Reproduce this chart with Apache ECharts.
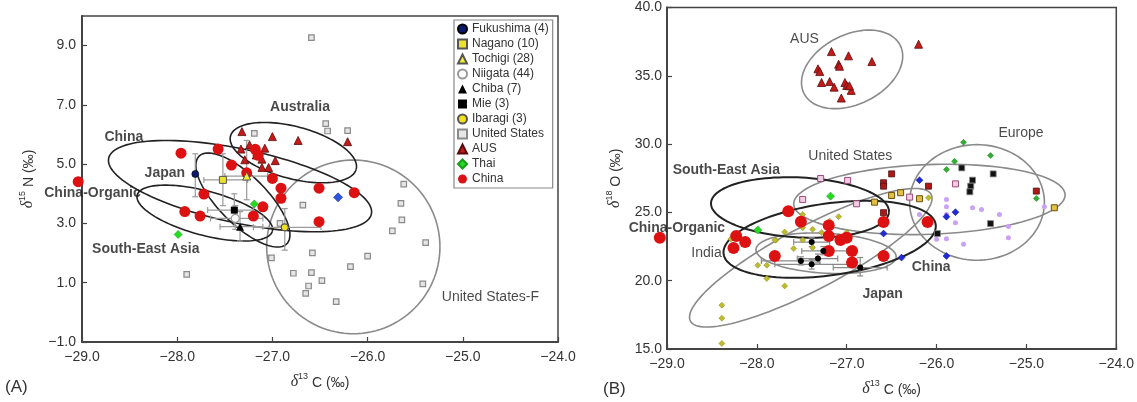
<!DOCTYPE html>
<html><head><meta charset="utf-8">
<script src="https://cdn.jsdelivr.net/npm/echarts@6/dist/echarts.min.js"></script>
<style>html,body{margin:0;padding:0;background:#fff}#c{width:1137px;height:402px}</style>
</head><body><div id="c"></div>
<script>
// ---------- ticks ----------
const xTicks = [-29, -28, -27, -26, -25, -24];
const aYTicks = [-1, 1, 3, 5, 7, 9];
const bYTicks = [15, 20, 25, 30, 35, 40];

// ---------- Panel A: d13C vs d15N ----------
const aChina = [[-27.96,5.37],[-27.57,5.51],[-27.43,4.97],[-27.27,4.71],[-27.18,5.50],[-27.15,5.30],[-27.0,4.52],[-26.91,4.19],[-26.91,3.85],[-26.51,4.19],[-26.14,4.04],[-26.51,3.06],[-27.72,3.99],[-27.92,3.40],[-27.76,3.25],[-27.10,3.56],[-27.20,3.25],[-29.04,4.41]];
const aAUS = [[-27.32,6.10],[-27.0,5.93],[-26.73,5.80],[-26.21,5.76],[-27.33,5.51],[-27.24,5.65],[-27.08,5.54],[-27.29,5.15],[-27.11,5.17],[-26.97,5.12],[-27.04,4.89],[-27.11,4.89],[-27.17,5.31]];
const aUS = [[-26.59,9.27],[-26.44,6.37],[-26.42,6.12],[-26.21,6.13],[-27.19,6.04],[-26.68,3.62],[-26.92,3.0],[-25.62,4.33],[-25.65,3.68],[-25.64,3.12],[-25.74,2.75],[-25.39,2.35],[-26.00,1.90],[-26.18,1.54],[-26.58,2.01],[-27.01,1.84],[-26.78,1.32],[-26.59,1.34],[-26.48,1.07],[-26.62,0.89],[-26.65,0.64],[-26.33,0.36],[-25.42,0.96],[-27.90,1.28]];
const aThai = [[-27.99,2.63],[-27.19,3.66]];
const aBlue = [[-26.31,3.88]];
const aFukushima = [[-27.81,4.67]];
const aNagano = [[-27.52,4.47]];
const aTochigi = [[-27.27,4.60]];
const aNiigata = [[-27.39,3.17]];
const aChiba = [[-27.34,2.89]];
const aMie = [[-27.40,3.45]];
const aIbaragi = [[-26.87,2.87]];
// [x, y, xLow, xHigh, yLow, yHigh]
const aJapanErr = [
  [-27.81,4.67,-27.81,-27.81,3.90,5.35],
  [-27.52,4.47,-27.72,-27.26,3.60,5.35],
  [-27.27,4.60,-27.50,-27.05,3.80,5.80],
  [-27.39,3.17,-27.65,-27.10,2.80,3.60],
  [-27.34,2.89,-27.55,-27.10,2.40,3.40],
  [-27.40,3.45,-27.68,-27.20,2.90,4.00],
  [-26.87,2.87,-27.20,-26.49,2.10,3.50]
];
// ellipses: [centerX, centerY, majorEndX, majorEndY, minorEndX, minorEndY]
const aEllBlack = [
  [-27.34,4.26,-25.96,3.32,-27.26,5.48],   // China
  [-26.78,5.39,-26.12,4.83,-26.71,6.24],   // Australia
  [-27.31,3.79,-26.85,2.31,-27.13,4.36],   // Japan
  [-27.71,3.35,-27.00,2.74,-27.65,4.07]    // South-East Asia
];
const aEllGrey = [
  [-26.15,2.21,-25.24,2.21,-26.15,5.14]    // United States-F
];
const aBoldLabels = [['Australia',-26.71,6.93],['China',-28.56,5.92],['Japan',-28.13,4.70],['China-Organic',-28.89,4.03],['South-East Asia',-28.33,2.14]];
const aRegLabels = [['United States-F',-24.71,0.51]];

// ---------- Panel B: d13C vs d18O ----------
const bAUS = [[-27.17,36.77],[-26.98,36.46],[-27.32,35.51],[-27.30,35.31],[-27.09,35.85],[-27.08,35.70],[-27.28,34.51],[-27.19,34.58],[-27.14,34.17],[-27.02,34.51],[-27.0,34.29],[-26.95,33.93],[-27.06,33.37],[-26.72,36.04],[-26.97,34.27],[-26.20,37.31]];
const bChina = [[-29.08,23.15],[-28.23,23.27],[-28.13,22.83],[-28.26,22.39],[-27.65,25.09],[-27.51,24.31],[-27.80,21.81],[-27.20,24.05],[-27.20,23.27],[-27.07,22.98],[-27.00,23.15],[-27.20,22.18],[-26.94,22.18],[-26.94,21.33],[-26.59,24.29],[-26.59,21.81],[-26.10,24.29]];
const bIndia = [[-28.39,18.21],[-28.39,17.26],[-28.39,15.41],[-27.89,20.16],[-27.69,19.62],[-27.99,21.13],[-27.89,21.13],[-27.69,23.56],[-27.79,22.96],[-27.59,22.35],[-27.49,24.85],[-27.49,23.88],[-27.38,23.76],[-27.38,22.42],[-27.28,23.52],[-27.19,24.36],[-27.09,24.69],[-27.00,23.52],[-27.80,22.98],[-27.49,22.98],[-28.29,23.05],[-26.09,26.07]];
const bJapan = [[-27.39,22.83],[-27.26,22.18],[-27.51,21.45],[-27.39,21.20],[-27.32,21.62],[-26.85,20.96]];
const bJapanErr = [
  [-27.39,22.83,-27.59,-27.19,22.50,23.15],
  [-27.26,22.18,-27.50,-27.00,21.90,22.50],
  [-27.51,21.45,-27.95,-27.30,21.15,21.75],
  [-27.39,21.20,-27.80,-26.99,20.85,21.55],
  [-27.32,21.62,-27.55,-27.10,21.30,21.95],
  [-26.85,20.96,-27.15,-26.55,20.35,21.70]
];
const bBlack = [[-25.72,28.26],[-25.60,27.36],[-25.62,26.92],[-25.63,26.51],[-25.37,27.82],[-25.40,24.18],[-25.99,23.45]];
const bRedSq = [[-26.50,27.82],[-26.59,27.17],[-26.59,26.92],[-26.09,26.92],[-24.89,26.56],[-26.59,24.98]];
const bPinkSq = [[-27.29,27.48],[-26.99,27.34],[-27.49,25.95],[-26.89,25.63],[-26.30,26.12],[-25.79,27.09]];
const bYellowSq = [[-26.50,26.24],[-26.40,26.44],[-26.19,26.00],[-24.69,25.34],[-26.69,25.75]];
const bBlue = [[-25.79,25.02],[-25.89,24.69],[-26.19,27.36],[-26.59,23.45],[-26.39,21.69],[-25.89,21.81]];
const bEurope = [[-25.70,30.13],[-25.40,29.16],[-25.80,28.74],[-25.89,28.14],[-24.89,26.02]];
const bLavender = [[-25.89,25.95],[-25.89,25.42],[-25.89,24.85],[-25.79,24.25],[-25.60,25.34],[-25.50,25.22],[-25.30,24.85],[-25.20,23.96],[-25.20,23.15],[-24.80,25.42],[-25.89,23.08],[-25.70,22.66],[-26.00,23.03],[-26.19,24.85]];
const bThai = [[-27.18,26.19],[-27.99,23.71]];
const bEllBlack = [
  [-27.52,25.36,-26.53,25.02,-27.50,27.55],  // South-East Asia
  [-27.19,23.03,-26.01,24.12,-27.25,25.63]   // China
];
const bEllGrey = [
  [-26.94,35.47,-26.40,37.17,-27.10,37.79],  // AUS
  [-27.23,22.01,-26.45,21.74,-27.22,23.47],  // Japan
  [-27.40,21.68,-26.06,26.31,-27.56,23.75],  // India
  [-26.08,25.95,-24.57,26.31,-26.10,28.50],  // United States
  [-25.55,25.73,-24.80,25.73,-25.55,29.96]   // Europe
];
const bBoldLabels = [['South-East Asia',-28.34,28.07],['China-Organic',-28.89,23.88],['China',-26.06,20.96],['Japan',-26.60,19.01]];
const bRegLabels = [['AUS',-27.47,37.68],['United States',-26.96,29.09],['Europe',-25.06,30.77],['India',-28.56,22.01]];

// ---------- chart ----------
const FONT = "'Liberation Sans', Arial, sans-serif";
const fmt = v => (v < 0 ? '\u2212' : '') + Math.abs(v).toFixed(1);
const chart = echarts.init(document.getElementById('c'), null, {renderer: 'canvas'});

function ellipseSeries(data, gi, color, width) {
  return {type: 'custom', xAxisIndex: gi, yAxisIndex: gi, silent: true, z: 3, clip: false, data: data,
    renderItem: function (params, api) {
      const c = api.coord([api.value(0), api.value(1)]);
      const m = api.coord([api.value(2), api.value(3)]);
      const n = api.coord([api.value(4), api.value(5)]);
      const ux = m[0]-c[0], uy = m[1]-c[1], vx = n[0]-c[0], vy = n[1]-c[1];
      const pts = [];
      for (let k = 0; k <= 120; k++) {
        const t = k / 120 * 2 * Math.PI;
        pts.push([c[0] + ux*Math.cos(t) + vx*Math.sin(t), c[1] + uy*Math.cos(t) + vy*Math.sin(t)]);
      }
      return {type: 'polyline', shape: {points: pts}, style: {stroke: color, lineWidth: width, fill: null}};
    }};
}
function errSeries(data, gi, color) {
  return {type: 'custom', xAxisIndex: gi, yAxisIndex: gi, silent: true, z: 4, data: data,
    renderItem: function (params, api) {
      const x = api.value(0), y = api.value(1);
      const xl = api.coord([api.value(2), y]), xh = api.coord([api.value(3), y]);
      const yl = api.coord([x, api.value(4)]), yh = api.coord([x, api.value(5)]);
      const st = {stroke: color, lineWidth: 1.2};
      const cap = 3;
      const ch = [];
      if (Math.abs(xh[0]-xl[0]) > 1) {
        ch.push({type: 'line', shape: {x1: xl[0], y1: xl[1], x2: xh[0], y2: xh[1]}, style: st});
        ch.push({type: 'line', shape: {x1: xl[0], y1: xl[1]-cap, x2: xl[0], y2: xl[1]+cap}, style: st});
        ch.push({type: 'line', shape: {x1: xh[0], y1: xh[1]-cap, x2: xh[0], y2: xh[1]+cap}, style: st});
      }
      if (Math.abs(yh[1]-yl[1]) > 1) {
        ch.push({type: 'line', shape: {x1: yl[0], y1: yl[1], x2: yh[0], y2: yh[1]}, style: st});
        ch.push({type: 'line', shape: {x1: yl[0]-cap, y1: yl[1], x2: yl[0]+cap, y2: yl[1]}, style: st});
        ch.push({type: 'line', shape: {x1: yh[0]-cap, y1: yh[1], x2: yh[0]+cap, y2: yh[1]}, style: st});
      }
      return {type: 'group', children: ch};
    }};
}
function sc(name, data, gi, symbol, size, color, border, bw, z) {
  return {name: name, type: 'scatter', xAxisIndex: gi, yAxisIndex: gi, data: data, symbol: symbol, symbolSize: size,
    clip: false, silent: true, z: z || 5,
    itemStyle: {color: color, borderColor: border || color, borderWidth: bw == null ? 0 : bw, opacity: 1}};
}
function labelSeries(list, gi, weight) {
  return {type: 'scatter', xAxisIndex: gi, yAxisIndex: gi, symbolSize: 1, silent: true, z: 10, clip: false,
    itemStyle: {color: 'rgba(0,0,0,0)'},
    data: list.map(d => ({name: d[0], value: [d[1], d[2]]})),
    label: {show: true, position: 'inside', formatter: p => p.name, color: '#1a1a1a',
      fontFamily: FONT, fontSize: 14, fontWeight: weight}};
}
function axisTitle(sup, letter) {
  return '{d|\u03b4}{s|' + sup + '}{t| ' + letter + ' (\u2030)}';
}
const titleRich = {
  d: {fontFamily: "'Liberation Serif', 'DejaVu Serif', serif", fontStyle: 'italic', fontSize: 16, color: '#333', lineHeight: 18, verticalAlign: 'bottom'},
  s: {fontFamily: FONT, fontSize: 9, color: '#333', lineHeight: 18, verticalAlign: 'top'},
  t: {fontFamily: FONT, fontSize: 14, color: '#333', lineHeight: 18, verticalAlign: 'bottom'}
};
const axisCommon = {
  axisLine: {show: true, onZero: false, lineStyle: {color: '#444', width: 2}},
  axisTick: {show: true, inside: true, length: 5, lineStyle: {color: '#444', width: 1.2}},
  splitLine: {show: false},
  axisLabel: {formatter: fmt, color: '#333', fontFamily: FONT, fontSize: 14}
};
function mkX(gi, gap) {
  return Object.assign({}, axisCommon, {type: 'value', gridIndex: gi, min: -29, max: -24, interval: 1,
    name: axisTitle('13', 'C'), nameLocation: 'middle', nameGap: gap, nameTextStyle: {rich: titleRich},
    axisLabel: Object.assign({}, axisCommon.axisLabel, {margin: 8, customValues: xTicks}),
    axisTick: Object.assign({}, axisCommon.axisTick, {customValues: xTicks})});
}
const option = {
  animation: false,
  backgroundColor: '#fff',
  grid: [
    {left: 82, top: 16, width: 476, height: 326, show: true, borderColor: '#444', borderWidth: 1.5},
    {left: 667, top: 7.5, width: 455.5, height: 342.5, show: true, borderColor: '#444', borderWidth: 1.5}
  ],
  xAxis: [mkX(0, 30), mkX(1, 30)],
  yAxis: [
    Object.assign({}, axisCommon, {type: 'value', gridIndex: 0, min: -1, max: 10,
      name: axisTitle('15', 'N'), nameLocation: 'middle', nameGap: 46, nameRotate: 90, nameTextStyle: {rich: titleRich},
      axisLabel: Object.assign({}, axisCommon.axisLabel, {margin: 6, customValues: aYTicks}),
      axisTick: Object.assign({}, axisCommon.axisTick, {customValues: aYTicks})}),
    Object.assign({}, axisCommon, {type: 'value', gridIndex: 1, min: 15, max: 40, interval: 5,
      name: axisTitle('18', 'O'), nameLocation: 'middle', nameGap: 44, nameRotate: 90, nameTextStyle: {rich: titleRich},
      axisLabel: Object.assign({}, axisCommon.axisLabel, {margin: 5, customValues: bYTicks}),
      axisTick: Object.assign({}, axisCommon.axisTick, {customValues: bYTicks})})
  ],
  legend: {
    orient: 'vertical', left: 454, top: 20, padding: [3, 4, 3, 3], itemGap: 3,
    itemWidth: 9, itemHeight: 9, backgroundColor: '#fff', borderColor: '#888', borderWidth: 1.2,
    selectedMode: false, textStyle: {fontFamily: FONT, fontSize: 12, lineHeight: 12, color: '#333'},
    data: ['Fukushima (4)', 'Nagano (10)', 'Tochigi (28)', 'Niigata (44)', 'Chiba (7)', 'Mie (3)', 'Ibaragi (3)', 'United States', 'AUS', 'Thai', 'China']
  },
  graphic: [
    {type: 'text', left: 5, top: 379, style: {text: '(A)', font: "17px 'Liberation Sans', Arial", fill: '#333'}},
    {type: 'text', left: 603, top: 381, style: {text: '(B)', font: "17px 'Liberation Sans', Arial", fill: '#333'}}
  ],
  series: [
    // Panel A
    ellipseSeries(aEllGrey, 0, '#8a8a8a', 1.6),
    ellipseSeries(aEllBlack, 0, '#222', 1.6),
    errSeries(aJapanErr, 0, '#9a9a9a'),
    sc('United States', aUS, 0, 'rect', 5.5, '#e6e6e6', '#8a8a8a', 1.2),
    sc('AUS', aAUS, 0, 'triangle', 8, '#c41a1a', '#5a0a0a', 0.8),
    sc('China', aChina, 0, 'circle', 11, '#dd1111', '#dd1111', 0),
    sc('Thai', aThai, 0, 'diamond', 8, '#22dd22', '#1b9a1b', 0.6),
    sc('', aBlue, 0, 'diamond', 9, '#2a56e0', '#1a2a90', 0.6),
    sc('Fukushima (4)', aFukushima, 0, 'circle', 7, '#0c1a6e', '#000', 0.6, 6),
    sc('Nagano (10)', aNagano, 0, 'rect', 7, '#ece030', '#555', 1, 6),
    sc('Tochigi (28)', aTochigi, 0, 'triangle', 8, '#f2f030', '#555', 1, 6),
    sc('Niigata (44)', aNiigata, 0, 'circle', 8, '#ffffff', '#999', 1.2, 6),
    sc('Chiba (7)', aChiba, 0, 'triangle', 8, '#000', '#000', 0, 6),
    sc('Mie (3)', aMie, 0, 'rect', 7, '#000', '#000', 0, 6),
    sc('Ibaragi (3)', aIbaragi, 0, 'circle', 7, '#f2e020', '#555', 1.2, 6),
    labelSeries(aBoldLabels, 0, 'bold'),
    labelSeries(aRegLabels, 0, 'normal'),
    // Panel B
    ellipseSeries(bEllGrey, 1, '#8a8a8a', 1.6),
    ellipseSeries(bEllBlack, 1, '#222', 2),
    errSeries(bJapanErr, 1, '#8a8a8a'),
    sc('bIndia', bIndia, 1, 'diamond', 6, '#bcbc2c', '#8a8a20', 0.5),
    sc('bLav', bLavender, 1, 'circle', 5, '#c9a2f5', '#c9a2f5', 0),
    sc('bEurope', bEurope, 1, 'diamond', 6, '#2fb02f', '#1e801e', 0.5),
    sc('bBlack', bBlack, 1, 'rect', 6, '#111', '#888', 0.8),
    sc('bRedSq', bRedSq, 1, 'rect', 6, '#b01818', '#4a1010', 0.8),
    sc('bPinkSq', bPinkSq, 1, 'rect', 6, '#f2cde4', '#9a4a7a', 1),
    sc('bYellowSq', bYellowSq, 1, 'rect', 6, '#e2c044', '#6a5010', 1),
    sc('bBlue', bBlue, 1, 'diamond', 7, '#1f2ad8', '#10187a', 0.5),
    sc('bChina', bChina, 1, 'circle', 12, '#dd1111', '#dd1111', 0),
    sc('bThai', bThai, 1, 'diamond', 8, '#22dd22', '#1b9a1b', 0.6),
    sc('bJapan', bJapan, 1, 'circle', 6, '#000', '#000', 0, 6),
    sc('bAUS', bAUS, 1, 'triangle', 8, '#c41a1a', '#5a0a0a', 0.8),
    labelSeries(bBoldLabels, 1, 'bold'),
    labelSeries(bRegLabels, 1, 'normal')
  ]
};
chart.setOption(option);
</script>
</body></html>
